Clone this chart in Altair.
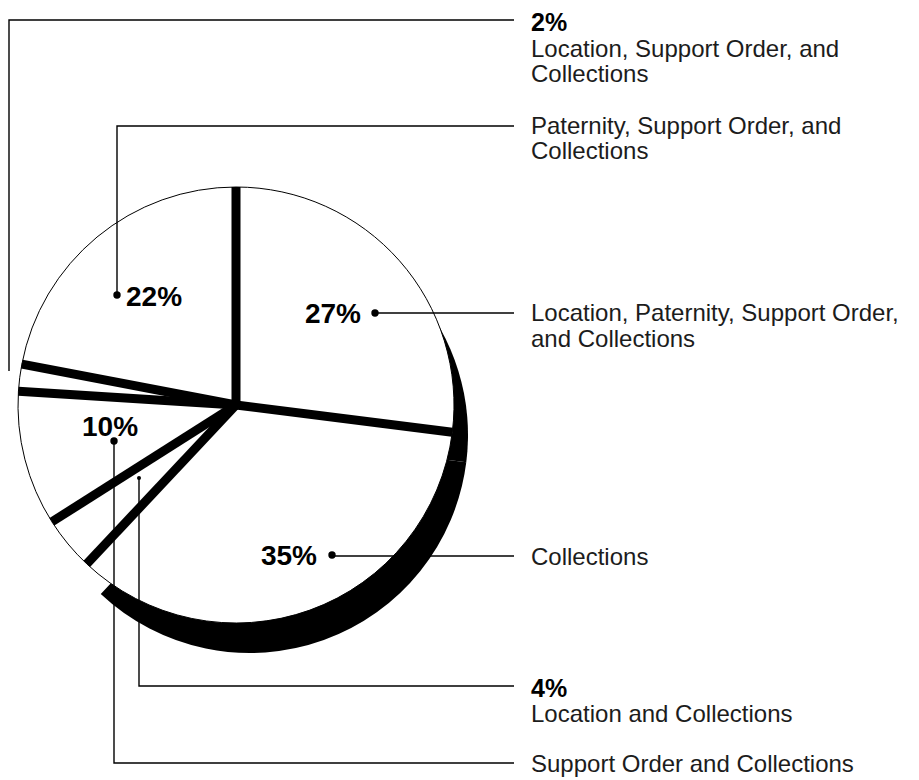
import altair as alt
import pandas as pd

# ---- data (slices clockwise from 12 o'clock) ----
slice_labels = [
    "Location, Paternity, Support Order, and Collections",
    "Collections",
    "Location and Collections",
    "Support Order and Collections",
    "Location, Support Order, and Collections",
    "Paternity, Support Order, and Collections",
]
slice_pct = [27, 35, 4, 10, 2, 22]
slice_has_shadow = [1, 1, 0, 0, 0, 0]

# in-pie percentage labels
pct_text = ["22%", "27%", "10%", "35%"]
pct_anchor = ["left", "right", "center", "right"]

# right-hand callout texts (bold flag)
callout_lines = [
    "2%", "Location, Support Order, and", "Collections",
    "Paternity, Support Order, and", "Collections",
    "Location, Paternity, Support Order,", "and Collections",
    "Collections",
    "4%", "Location and Collections",
    "Support Order and Collections",
]
callout_bold = [1, 0, 0, 0, 0, 0, 0, 0, 1, 0, 0]

# ---- layout (page pixels) ----
W, H = 903, 772
PIE_CX, PIE_CY, PIE_R = 236, 405, 218
SH_DX, SH_DY = 14, 30
GAP = 9
pct_x = [126, 361, 110, 317]
pct_y = [306, 323, 436, 565]
callout_y = [31, 57, 82, 134, 159, 321, 347, 565, 697, 722, 772]
CALLOUT_X = 531
dot_x = [117, 375, 114, 332, 139]
dot_y = [295, 313, 441, 555, 478]
dot_size = [55, 55, 55, 55, 16]
leader_id = [0, 0, 0, 1, 1, 1, 2, 2, 3, 3, 4, 4, 4, 5, 5, 5]
leader_x = [9, 9, 514, 117, 117, 514, 375, 514, 332, 514, 139, 139, 514, 114, 114, 514]
leader_y = [371, 20, 20, 295, 126, 126, 313, 313, 556, 556, 478, 686, 686, 441, 763, 763]

FONT = "Liberation Sans"

xs = alt.Scale(domain=[8, 8 + W], nice=False, zero=False)
ys = alt.Scale(domain=[8, 8 + H], nice=False, zero=False, reverse=True)

slices = pd.DataFrame({
    "label": slice_labels,
    "pct": slice_pct,
    "ord": list(range(len(slice_pct))),
    "shadow": slice_has_shadow,
})
base = alt.Chart(slices)

shadow = base.transform_calculate(
    sx=f"{PIE_CX + SH_DX}", sy=f"{PIE_CY + SH_DY}"
).mark_arc(outerRadius=PIE_R, fill="black").encode(
    theta=alt.Theta("pct:Q", stack=True),
    order=alt.Order("ord:Q"),
    x=alt.X("sx:Q", scale=xs, axis=None),
    y=alt.Y("sy:Q", scale=ys, axis=None),
    fillOpacity=alt.condition(alt.datum.shadow == 1, alt.value(1), alt.value(0)),
)

pie = base.transform_calculate(
    cx=f"{PIE_CX}", cy=f"{PIE_CY}"
).mark_arc(outerRadius=PIE_R, fill="white", stroke="black", strokeWidth=1).encode(
    theta=alt.Theta("pct:Q", stack=True),
    order=alt.Order("ord:Q"),
    x=alt.X("cx:Q", scale=xs, axis=None),
    y=alt.Y("cy:Q", scale=ys, axis=None),
)

gaps = base.transform_window(
    cum="sum(pct)", sort=[alt.SortField("ord")], frame=[None, 0]
).transform_calculate(
    ang="2*PI*datum.cum/100",
    x0=f"{PIE_CX}",
    y0=f"{PIE_CY}",
    x1=f"{PIE_CX} + {PIE_R}*sin(datum.ang)",
    y1=f"{PIE_CY} - {PIE_R}*cos(datum.ang)",
).mark_rule(color="black", strokeWidth=GAP, strokeCap="butt").encode(
    x=alt.X("x0:Q", scale=xs, axis=None),
    y=alt.Y("y0:Q", scale=ys, axis=None),
    x2="x1:Q",
    y2="y1:Q",
)

leaders_df = pd.DataFrame({
    "id": leader_id,
    "seq": list(range(len(leader_id))),
    "x": leader_x,
    "y": leader_y,
})
leaders = alt.Chart(leaders_df).mark_line(color="black", strokeWidth=1.4).encode(
    x=alt.X("x:Q", scale=xs, axis=None),
    y=alt.Y("y:Q", scale=ys, axis=None),
    detail="id:N",
    order="seq:Q",
)

dots_df = pd.DataFrame({"x": dot_x, "y": dot_y, "s": dot_size})
dots = alt.Chart(dots_df).mark_circle(color="black", opacity=1).encode(
    x=alt.X("x:Q", scale=xs, axis=None),
    y=alt.Y("y:Q", scale=ys, axis=None),
    size=alt.Size("s:Q", scale=None, legend=None),
)

pct_df = pd.DataFrame({"t": pct_text, "x": pct_x, "y": pct_y, "a": pct_anchor})
pct_layers = []
for anchor in ["left", "right", "center"]:
    pct_layers.append(
        alt.Chart(pct_df).transform_filter(alt.datum.a == anchor).mark_text(
            align=anchor, baseline="alphabetic", font=FONT, fontSize=28,
            fontWeight="bold", color="black",
        ).encode(
            x=alt.X("x:Q", scale=xs, axis=None),
            y=alt.Y("y:Q", scale=ys, axis=None),
            text="t:N",
        )
    )

call_df = pd.DataFrame({
    "t": callout_lines,
    "y": callout_y,
    "b": callout_bold,
}).assign(x=CALLOUT_X)
call_reg = alt.Chart(call_df).transform_filter(alt.datum.b == 0).mark_text(
    align="left", baseline="alphabetic", font=FONT, fontSize=24, color="#1c1c1c",
).encode(
    x=alt.X("x:Q", scale=xs, axis=None),
    y=alt.Y("y:Q", scale=ys, axis=None),
    text="t:N",
)
call_bold = alt.Chart(call_df).transform_filter(alt.datum.b == 1).mark_text(
    align="left", baseline="alphabetic", font=FONT, fontSize=25, fontWeight="bold",
    color="black",
).encode(
    x=alt.X("x:Q", scale=xs, axis=None),
    y=alt.Y("y:Q", scale=ys, axis=None),
    text="t:N",
)

chart = alt.layer(
    shadow, pie, gaps, leaders, dots, *pct_layers, call_reg, call_bold
).properties(
    width=W, height=H, padding=0,
    autosize=alt.AutoSizeParams(type="none"),
).configure(
    background="white",
    view=alt.ViewConfig(stroke=None),
)

chart.save("out.html", embed_options={"renderer": "svg", "actions": False})
